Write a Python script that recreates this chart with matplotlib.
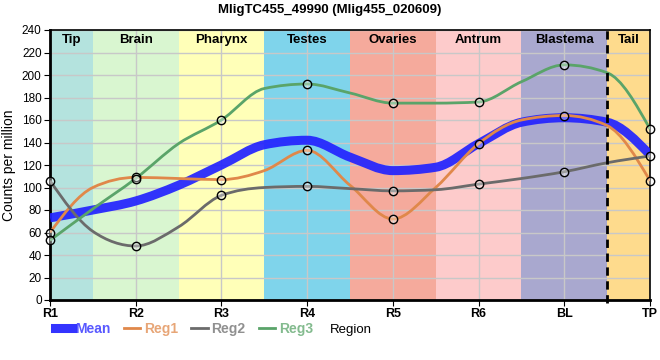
import numpy as np
import matplotlib
matplotlib.use("Agg")
import matplotlib.pyplot as plt
from matplotlib.path import Path
from matplotlib.patches import PathPatch
from matplotlib.lines import Line2D
from matplotlib.transforms import blended_transform_factory

plt.rcParams['font.family'] = ['Liberation Sans', 'DejaVu Sans']

title = "MligTC455_49990 (Mlig455_020609)"
points = ["R1", "R2", "R3", "R4", "R5", "R6", "BL", "TP"]
regions = ["Tip", "Brain", "Pharynx", "Testes", "Ovaries", "Antrum", "Blastema", "Tail"]
region_colors = ["#b4e3de", "#d9f6d0", "#ffffb8", "#7fd4eb",
                 "#f5aa9c", "#fdcbcb", "#a9a8cf", "#fedb8d"]
# values at the sample points
reg1 = [60, 109, 107, 133, 72, 139, 164, 106]
reg2 = [106, 48, 93, 101, 97, 103, 114, 128]
reg3 = [53, 108, 160, 192, 175, 176, 209, 152]
mean = [73, 88, 120, 142, 115, 139, 162, 129]
# curve values at the region borders
reg1_edges = [100, 108, 115, 102, 100, 160, 155]
reg2_edges = [61, 65, 100, 99, 98, 108, 122]
reg3_edges = [81, 139, 188, 184, 175, 194, 202]
mean_edges = [80, 102, 138, 127, 118, 158, 158]


def monotone_path(x, y):
    # monotone-x cubic curve, same construction as d3.curveMonotoneX
    x = np.asarray(x, float)
    y = np.asarray(y, float)
    n = len(x)
    h = np.diff(x)
    s = np.diff(y) / h
    t = np.zeros(n)
    for i in range(1, n - 1):
        p = (s[i - 1] * h[i] + s[i] * h[i - 1]) / (h[i - 1] + h[i])
        t[i] = (np.sign(s[i - 1]) + np.sign(s[i])) * min(abs(s[i - 1]), abs(s[i]), 0.5 * abs(p))
    t[0] = (3 * s[0] - t[1]) / 2
    t[-1] = (3 * s[-1] - t[-2]) / 2
    verts = [(x[0], y[0])]
    codes = [Path.MOVETO]
    for i in range(n - 1):
        dx = h[i] / 3
        verts += [(x[i] + dx, y[i] + dx * t[i]),
                  (x[i + 1] - dx, y[i + 1] - dx * t[i + 1]),
                  (x[i + 1], y[i + 1])]
        codes += [Path.CURVE4] * 3
    return Path(verts, codes)


def knots(vals, edges):
    ys = [vals[0]]
    for v, e in zip(vals[1:], edges):
        ys += [e, v]
    return np.arange(len(ys)) * 0.5, ys


fig = plt.figure(figsize=(6.6, 3.6), dpi=100)
ax = fig.add_axes([50 / 660, 60 / 360, 600 / 660, 270 / 360])
xs = np.arange(len(points))

bounds = [0, 0.5, 1.5, 2.5, 3.5, 4.5, 5.5, 6.5, 7]
btrans = blended_transform_factory(ax.transData, ax.transAxes)
for i, (name, col) in enumerate(zip(regions, region_colors)):
    ax.axvspan(bounds[i], bounds[i + 1], color=col, lw=0, zorder=0)
    ax.text((bounds[i] + bounds[i + 1]) / 2, 0.985, name, transform=btrans,
            ha="center", va="top", fontsize=9.5, fontweight="bold", zorder=5)

ax.grid(True, color="#c8c8c8", lw=1, zorder=1)
ax.set_axisbelow(True)

series = [("Mean", mean, mean_edges, "#2222ff", 6.5, 0.92),
          ("Reg1", reg1, reg1_edges, "#e0884a", 2, 1),
          ("Reg2", reg2, reg2_edges, "#6b6b6b", 2, 1),
          ("Reg3", reg3, reg3_edges, "#5aa469", 2, 1)]
for name, vals, edges, col, lw, a in series:
    kx, ky = knots(vals, edges)
    ax.add_patch(PathPatch(monotone_path(kx, ky), fill=False, edgecolor=col, lw=lw,
                           alpha=a, zorder=3, capstyle="butt"))
for name, vals, edges, col, lw, a in series[1:]:
    ax.plot(xs, vals, ls="none", marker="o", ms=6, mfc=(1, 1, 1, 0.35), mec="black",
            mew=1, zorder=4, clip_on=False)

ax.plot([6.5, 6.5], [-3, 240], ls=(0, (3, 2)), color="black", lw=2, zorder=6, clip_on=False)

ax.set_xlim(0, 7)
ax.set_ylim(0, 240)
ax.set_xticks(xs)
ax.set_xticklabels(points, fontweight="bold", fontsize=9)
ax.set_yticks(np.arange(0, 241, 20))
ax.tick_params(axis="y", labelsize=8.5, length=4, pad=2)
ax.tick_params(axis="x", length=4, pad=2)
for side in ["left", "bottom"]:
    ax.spines[side].set_linewidth(2)
for side in ["top", "right"]:
    ax.spines[side].set_linewidth(1.2)
ax.set_ylabel("Counts per million", fontsize=10, labelpad=4)
fig.text(351 / 660, 1 - 330 / 360, "Region", ha="center", va="center", fontsize=9.5)
fig.text(330 / 660, 1 - 10 / 360, title, ha="center", va="center", fontsize=9.5, fontweight="bold")

handles = [Line2D([], [], color=s[3], lw=s[4], alpha=s[5]) for s in series]
leg = fig.legend(handles, [s[0] for s in series], loc="center left", bbox_to_anchor=(55 / 660, 1 - 329 / 360),
                 ncol=4, frameon=False, handlelength=1.2, handletextpad=0.25, columnspacing=0.95,
                 prop={"size": 10, "weight": "bold"}, borderaxespad=0, borderpad=0)
for txt, s in zip(leg.get_texts(), series):
    txt.set_color(s[3])
    txt.set_alpha(0.75)

fig.savefig("out.png", dpi=100)
